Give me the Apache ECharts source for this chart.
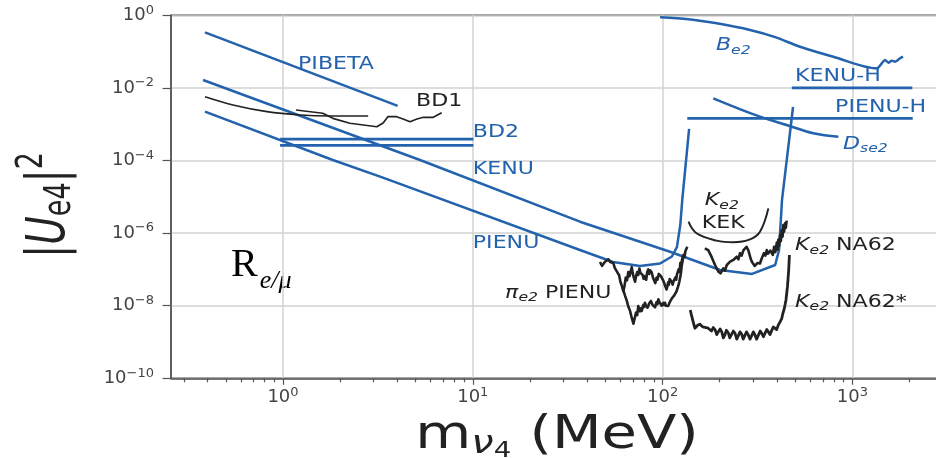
<!DOCTYPE html>
<html>
<head>
<meta charset="utf-8">
<script src="https://cdn.jsdelivr.net/npm/echarts@6/dist/echarts.min.js"></script>
<style>
  html, body { margin: 0; padding: 0; background: #fff; }
  #chart { width: 936px; height: 458px; }
</style>
</head>
<body>
<div id="chart"></div>
<script>
// ---- axis ticks (MeV on x, |U_e4|^2 on y) ----
const majorTicksX = [1, 10, 100, 1000];
const minorTicksX = [0.3, 0.4, 0.5, 0.6, 0.7, 0.8, 0.9,
  2, 3, 4, 5, 6, 7, 8, 9,
  20, 30, 40, 50, 60, 70, 80, 90,
  200, 300, 400, 500, 600, 700, 800, 900,
  2000, 3000];
const ticksY = [1e-10, 1e-8, 1e-6, 1e-4, 1e-2, 1];

// ---- limit curves: [mass (MeV), |U_e4|^2] ----
const pibeta = [[0.388, 0.34], [4.02, 3.2e-3]];

const kenu = [[0.379, 1.65e-2], [5.27, 1.03e-4], [36.7, 2.06e-6], [109.5, 3.07e-7],
  [201, 9.6e-8], [296, 7.5e-8], [392, 1.32e-7], [411, 3.4e-7], [426, 8.2e-6], [487, 2.98e-3]];

const pienu = [[0.388, 2.21e-3], [1.83, 1.03e-4], [3.25, 3.58e-5], [36.7, 3.42e-7],
  [54.8, 1.6e-7], [76, 1.24e-7], [97, 1.45e-7], [112, 2.27e-7], [119, 4.1e-7],
  [124, 1.67e-6], [127, 8.2e-6], [138, 7.4e-4]];

const bd2Upper = [[0.965, 3.9e-4], [10.07, 3.9e-4]];
const bd2Lower = [[0.965, 2.6e-4], [10.07, 2.6e-4]];

const kenuH = [[480, 1.0e-2], [2070, 1.0e-2]];
const pienuH = [[135, 1.45e-3], [2080, 1.45e-3]];

const be2 = [[97, 0.88], [137, 0.78], [193, 0.6], [289, 0.394], [392, 0.25], [530, 0.136],
  [794, 0.072], [1343, 0.0347], [1429, 0.0476], [1487, 0.0587], [1549, 0.0495],
  [1614, 0.0561], [1680, 0.0527], [1783, 0.0654], [1849, 0.073]];

const dse2 = [[185, 5.17e-3], [326, 1.61e-3], [451, 9.5e-4], [623, 5.6e-4], [844, 4.5e-4]];

const bd1a = [[0.388, 5.7e-3], [0.545, 3.38e-3], [0.823, 2.21e-3], [1.23, 1.79e-3],
  [1.77, 1.68e-3], [2.81, 1.68e-3]];
const bd1b = [[1.17, 2.46e-3], [1.62, 2.0e-3], [1.83, 1.45e-3], [2.25, 1.06e-3],
  [3.12, 8.5e-4], [3.37, 1.08e-3], [3.57, 1.61e-3], [3.97, 1.61e-3], [4.29, 1.39e-3],
  [4.67, 1.17e-3], [5.08, 1.39e-3], [5.49, 1.55e-3], [6.19, 1.55e-3], [6.86, 2.07e-3]];

const ke2Kek = [[137, 2.06e-6], [151, 9.9e-7], [193, 6.2e-7], [236, 5.6e-7],
  [289, 6.7e-7], [326, 1.09e-6], [361, 4.8e-6]];

const pie2Upper = [[46.8, 1.6e-7], [48.0, 1.25e-7], [48.7, 1.32e-7], [49.6, 1.6e-7],
  [50.5, 1.8e-7], [51.8, 1.9e-7], [53, 1.6e-7], [54, 1.75e-7], [55, 1.5e-7], [56, 1.1e-7],
  [57, 1.2e-7], [58, 8.0e-8], [59, 7.0e-8], [60, 4.5e-8], [61, 3.5e-8], [62.1, 2.5e-8],
  [63, 3.5e-8], [64, 6.0e-8], [65, 5.0e-8], [66, 8.5e-8], [67, 6.5e-8], [68, 9.0e-8],
  [68.8, 1.15e-7], [69.6, 8.0e-8], [70.5, 6.0e-8], [71.6, 4.6e-8], [72.5, 6.5e-8],
  [73.5, 8.5e-8], [74.5, 7.0e-8], [75.5, 1.05e-7], [76.5, 8.0e-8], [77.7, 9.0e-8],
  [78.5, 7.0e-8], [79.5, 5.5e-8], [80.8, 6.5e-8], [82, 5.2e-8], [83, 8.5e-8],
  [84.1, 1.0e-7], [85, 7.5e-8], [86, 9.5e-8], [87.7, 8.2e-8], [88.6, 6.5e-8],
  [89.5, 5.5e-8], [90.5, 4.8e-8], [91.5, 4.2e-8], [93, 6.0e-8], [94, 5.2e-8],
  [95.5, 7.5e-8], [97, 8.2e-8], [98, 6.5e-8], [99, 5.8e-8], [100, 6.5e-8], [101, 4.8e-8],
  [102, 4.2e-8], [103, 3.6e-8], [104, 3.2e-8], [105, 2.8e-8], [106, 3.4e-8],
  [107, 4.4e-8], [108, 3.8e-8], [109, 5.4e-8], [110.5, 4.8e-8], [112, 4.4e-8],
  [113, 3.8e-8], [114, 4.6e-8], [115.5, 4.2e-8], [117, 6.0e-8], [118, 5.2e-8],
  [119, 7.2e-8], [120.5, 6.5e-8], [121.5, 1.0e-7], [123, 8.5e-8], [124, 1.5e-7],
  [125.5, 1.3e-7], [126.5, 1.8e-7], [128, 1.6e-7], [129, 2.5e-7], [130.5, 2.2e-7],
  [132, 3.2e-7], [135, 4.2e-7]];

const pie2Lower = [[62.1, 2.7e-8], [63.4, 1.9e-8], [64.7, 1.4e-8], [66, 9.5e-9],
  [67.4, 7.2e-9], [68.8, 4.6e-9], [70.2, 3.2e-9], [71.3, 4.5e-9], [72.5, 6.5e-9],
  [73.5, 5.5e-9], [74.5, 9.8e-9], [75.3, 8.2e-9], [76.1, 7.0e-9], [77, 8.5e-9],
  [77.7, 7.2e-9], [78.5, 9.0e-9], [79.2, 1.05e-8], [80, 9.2e-9], [80.8, 1.2e-8],
  [81.7, 1.0e-8], [82.5, 1.05e-8], [83.3, 8.8e-9], [84.1, 9.2e-9], [85, 1.15e-8],
  [86, 1.05e-8], [86.8, 1.35e-8], [87.7, 1.25e-8], [88.6, 1.05e-8], [89.5, 1.1e-8],
  [90.4, 9.4e-9], [91.3, 9.0e-9], [92.2, 1.1e-8], [93, 1.25e-8], [94, 1.1e-8],
  [95, 1.5e-8], [96, 1.3e-8], [97, 1.15e-8], [98, 1.3e-8], [99, 1.0e-8], [100, 1.1e-8],
  [101, 1.2e-8], [102, 1.05e-8], [103, 1.2e-8], [104, 1.0e-8], [105, 1.1e-8],
  [106, 9.0e-9], [107, 9.8e-9], [108, 1.1e-8], [109.5, 1.3e-8], [110.5, 1.2e-8],
  [112, 1.6e-8], [113, 1.45e-8], [114, 1.75e-8], [115, 1.9e-8], [116, 2.1e-8],
  [117.5, 2.0e-8], [118.5, 2.5e-8], [120, 2.8e-8], [121, 3.5e-8], [122.5, 4.5e-8],
  [124, 6.3e-8], [125, 8.0e-8], [126, 1.2e-7], [129, 2.5e-7]];

const ke2Na62 = [[167, 3.8e-7], [174, 3.4e-7], [181, 2.24e-7], [189, 1.32e-7],
  [197, 8.6e-8], [202, 7.8e-8], [209, 1.07e-7], [213, 9.2e-8], [218, 1.32e-7],
  [222, 1.2e-7], [227, 1.63e-7], [231, 1.45e-7], [236, 1.82e-7], [241, 1.65e-7],
  [246, 2.24e-7], [251, 1.9e-7], [256, 2.8e-7], [261, 2.4e-7], [267, 3.4e-7],
  [272, 3.0e-7], [277, 4.2e-7], [283, 3.4e-7], [287, 2.6e-7], [291, 2.0e-7],
  [296, 1.6e-7], [301, 1.47e-7], [306, 1.25e-7], [311, 1.32e-7], [316, 1.5e-7],
  [320, 1.63e-7], [326, 1.45e-7], [333, 2.0e-7], [337, 1.8e-7], [342, 2.8e-7],
  [348, 2.4e-7], [354, 3.4e-7], [359, 2.7e-7], [364, 2.5e-7], [370, 3.3e-7],
  [376, 3.1e-7], [381, 2.5e-7], [387, 4.2e-7], [393, 3.0e-7], [400, 5.5e-7],
  [404, 3.5e-7], [407, 6.5e-7], [412, 4.5e-7], [416, 8.9e-7], [420, 6.0e-7],
  [425, 1.22e-6], [429, 8.0e-7], [433, 1.67e-6], [437, 1.1e-6], [442, 1.86e-6],
  [446, 1.4e-6], [451, 2.2e-6]];

const ke2Na62Star = [[140, 7.6e-9], [142, 5.5e-9], [145, 3.6e-9], [148, 2.4e-9],
  [153, 2.9e-9], [157, 3.1e-9], [163, 2.6e-9], [167, 2.8e-9], [174, 2.4e-9],
  [181, 2.0e-9], [185, 2.5e-9], [189, 2.2e-9], [193, 1.6e-9], [197, 1.73e-9],
  [201, 2.3e-9], [205, 1.9e-9], [209, 1.3e-9], [213, 1.56e-9], [217, 2.1e-9],
  [222, 1.8e-9], [226, 1.3e-9], [231, 1.4e-9], [236, 2.0e-9], [241, 1.73e-9],
  [246, 1.2e-9], [251, 1.35e-9], [256, 1.9e-9], [261, 1.66e-9], [266, 1.2e-9],
  [272, 1.26e-9], [277, 1.9e-9], [283, 1.56e-9], [289, 1.2e-9], [295, 1.19e-9],
  [301, 1.9e-9], [307, 1.56e-9], [313, 1.2e-9], [320, 1.35e-9], [327, 2.0e-9],
  [333, 1.73e-9], [340, 1.4e-9], [347, 1.46e-9], [354, 2.2e-9], [361, 1.9e-9],
  [368, 1.6e-9], [376, 1.8e-9], [383, 2.6e-9], [391, 2.4e-9], [399, 2.2e-9],
  [407, 2.9e-9], [416, 3.6e-9], [425, 4.5e-9], [430, 6.0e-9], [436, 7.6e-9],
  [441, 1.0e-8], [447, 1.44e-8], [451, 2.2e-8], [455, 3.3e-8], [459, 6.0e-8],
  [462, 9.6e-8], [466, 2.5e-7]];

// ---- styling ----
const BLUE = '#2362ad';
const INK = '#222222';
const AXIS = '#555555';
const GRIDLINE = '#d2d2d2';
const FONT = 'DejaVu Sans';
const STRETCH = 1.3;

// X range of the plotting area (log scale)
const X_MIN = Math.pow(10, -0.5902);
const X_MAX = 4000;

// Text tags placed at [mass, |U|^2] anchors (left, vertically centred)
const tags = [
  { text: 'PIBETA', m: 1.2, u: 0.0428, color: BLUE },
  { text: 'BD1', m: 5.02, u: 4.1e-3, color: INK },
  { text: 'BD2', m: 10.0, u: 5.7e-4, color: BLUE },
  { text: 'KENU', m: 10.0, u: 5.5e-5, color: BLUE },
  { text: 'PIENU', m: 10.0, u: 5.3e-7, color: BLUE },
  { text: '{i|π}{s|e2} PIENU', m: 14.8, u: 2.2e-8, color: INK },
  { text: '{i|B}{s|e2}', m: 191, u: 0.143, color: BLUE },
  { text: 'KENU-H', m: 499, u: 0.02, color: BLUE },
  { text: 'PIENU-H', m: 811, u: 2.8e-3, color: BLUE },
  { text: '{i|D}{s|se2}', m: 893, u: 2.7e-4, color: BLUE },
  { text: '{i|K}{s|e2}', m: 167, u: 7.7e-6, color: INK },
  { text: 'KEK', m: 161, u: 1.8e-6, color: INK },
  { text: '{i|K}{s|e2} NA62', m: 499, u: 4.4e-7, color: INK },
  { text: '{i|K}{s|e2} NA62*', m: 499, u: 1.2e-8, color: INK }
];

function powLabel(v) {
  const e = Math.round(Math.log10(v));
  return '{b|10}{s|' + (e < 0 ? '\u2212' : '') + Math.abs(e) + '}';
}
const tickRich = {
  b: { fontSize: 18, fontFamily: FONT, color: '#444' },
  s: { fontSize: 13, fontFamily: FONT, color: '#444', padding: [0, 0, 10, 0] }
};

function lineSeries(name, data, color, width, smooth) {
  return {
    name: name,
    type: 'line',
    data: data,
    showSymbol: false,
    symbol: 'none',
    smooth: smooth || false,
    clip: false,
    silent: true,
    lineStyle: { color: color, width: width, join: 'round' },
    z: 3
  };
}

const chart = echarts.init(document.getElementById('chart'), null, { renderer: 'canvas' });

chart.setOption({
  animation: false,
  backgroundColor: '#ffffff',
  grid: {
    left: 171, top: 15.3, width: 795.6, height: 363,
    outerBoundsMode: 'none',
    containLabel: false,
    show: true, borderColor: AXIS, borderWidth: 1.5, backgroundColor: 'transparent'
  },
  xAxis: [
    {
      type: 'log', logBase: 10, min: X_MIN, max: X_MAX, position: 'bottom',
      axisLine: { show: true, lineStyle: { color: AXIS, width: 1.5 } },
      axisTick: { show: true, length: 6.5, customValues: majorTicksX, lineStyle: { color: AXIS, width: 1.2 } },
      axisLabel: { customValues: majorTicksX, formatter: powLabel, rich: tickRich, margin: 8 },
      splitLine: { show: true, lineStyle: { color: GRIDLINE, width: 1.5 } },
      minorTick: { show: false }, minorSplitLine: { show: false }
    },
    {
      type: 'log', logBase: 10, min: X_MIN, max: X_MAX, position: 'bottom', offset: 0,
      axisLine: { show: false },
      axisTick: { show: true, length: 4, customValues: minorTicksX, lineStyle: { color: AXIS, width: 1.2 } },
      axisLabel: { show: false },
      splitLine: { show: false }
    }
  ],
  yAxis: {
    type: 'log', logBase: 10, min: 1e-10, max: 1,
    axisLine: { show: true, lineStyle: { color: AXIS, width: 1.5 } },
    axisTick: { show: true, length: 8.5, customValues: ticksY, lineStyle: { color: AXIS, width: 1.2 } },
    axisLabel: { customValues: ticksY, formatter: powLabel, rich: tickRich, margin: 17 },
    splitLine: { show: true, lineStyle: { color: GRIDLINE, width: 1.5 } }
  },
  series: [
    lineSeries('PIBETA', pibeta, BLUE, 2.5),
    lineSeries('KENU', kenu, BLUE, 2.5),
    lineSeries('PIENU', pienu, BLUE, 2.5),
    lineSeries('BD2 upper', bd2Upper, BLUE, 2.8),
    lineSeries('BD2 lower', bd2Lower, BLUE, 2.8),
    lineSeries('KENU-H', kenuH, BLUE, 2.8),
    lineSeries('PIENU-H', pienuH, BLUE, 2.8),
    lineSeries('Be2', be2, BLUE, 2.5, 0.3),
    lineSeries('Dse2', dse2, BLUE, 2.5, 0.4),
    lineSeries('BD1 a', bd1a, INK, 1.7, 0.3),
    lineSeries('BD1 b', bd1b, INK, 1.7),
    lineSeries('Ke2 KEK', ke2Kek, INK, 2, 0.4),
    lineSeries('pie2 PIENU upper', pie2Upper, INK, 2.6),
    lineSeries('pie2 PIENU lower', pie2Lower, INK, 2.6),
    lineSeries('Ke2 NA62', ke2Na62, INK, 2.6),
    lineSeries('Ke2 NA62*', ke2Na62Star, INK, 2.8),
    {
      name: 'tags',
      type: 'custom',
      coordinateSystem: 'cartesian2d',
      silent: true,
      clip: false,
      z: 5,
      data: tags.map(t => [t.m, t.u]),
      renderItem: function (params, api) {
        const t = tags[params.dataIndex];
        const p = api.coord([api.value(0), api.value(1)]);
        return {
          type: 'text',
          x: p[0], y: p[1],
          scaleX: STRETCH,
          style: {
            text: t.text,
            fill: t.color,
            fontSize: 17,
            fontFamily: FONT,
            align: 'left',
            verticalAlign: 'middle',
            rich: {
              i: { fontSize: 17, fontFamily: FONT, fontStyle: 'italic', fill: t.color },
              s: { fontSize: 12, fontFamily: FONT, fontStyle: 'italic', fill: t.color, padding: [9, 0, 0, 0] }
            }
          }
        };
      }
    }
  ],
  graphic: [
    {
      // y-axis title |U_e4|^2
      type: 'text',
      x: 50, y: 205,
      rotation: Math.PI / 2,
      scaleY: 1.35,
      style: {
        text: '|{i|U}{s|e4}|{p|2}',
        fill: INK,
        fontSize: 39,
        fontFamily: FONT,
        align: 'center',
        verticalAlign: 'middle',
        rich: {
          i: { fontSize: 39, fontFamily: FONT, fontStyle: 'italic', fill: INK },
          s: { fontSize: 27, fontFamily: FONT, fill: INK, padding: [16, 0, 0, 0] },
          p: { fontSize: 27, fontFamily: FONT, fill: INK, padding: [0, 0, 26, 0] }
        }
      }
    },
    {
      // x-axis title m_nu4 (MeV)
      type: 'text',
      x: 557, y: 436,
      scaleX: 1.25,
      style: {
        text: 'm{n|ν}{d|4} (MeV)',
        fill: INK,
        fontSize: 46,
        fontFamily: FONT,
        align: 'center',
        verticalAlign: 'middle',
        rich: {
          n: { fontSize: 32, fontFamily: FONT, fontStyle: 'italic', fill: INK, padding: [18, 0, 0, 0] },
          d: { fontSize: 22, fontFamily: FONT, fill: INK, padding: [30, 0, 0, 0] }
        }
      }
    },
    {
      // ratio label R_{e/mu}
      type: 'text',
      x: 231, y: 265,
      style: {
        text: 'R{s|e/μ}',
        fill: '#000',
        fontSize: 40,
        fontFamily: 'Liberation Serif',
        align: 'left',
        verticalAlign: 'middle',
        rich: {
          s: { fontSize: 26, fontFamily: 'Liberation Serif', fontStyle: 'italic', fill: '#000', padding: [32, 0, 0, 2] }
        }
      }
    }
  ]
});
</script>
</body>
</html>
